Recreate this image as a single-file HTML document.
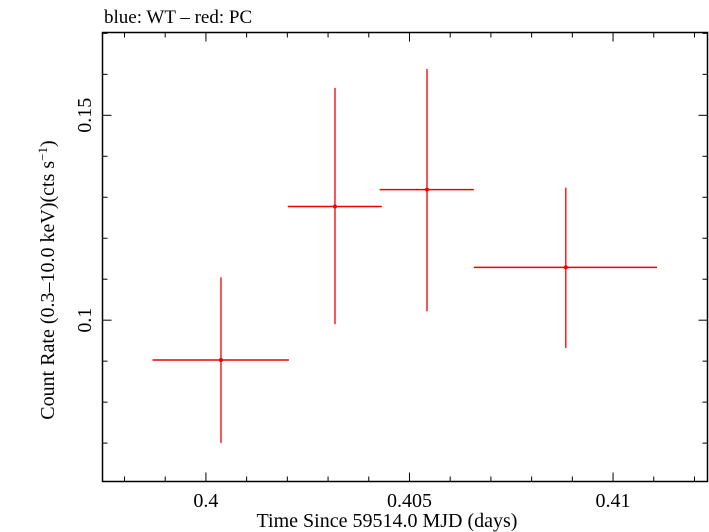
<!DOCTYPE html>
<html><head><meta charset="utf-8"><style>body{margin:0;background:#fff}svg{display:block}text{font-family:"Liberation Serif",serif;fill:#000}</style></head>
<body>
<svg width="709" height="532" viewBox="0 0 709 532" xmlns="http://www.w3.org/2000/svg">
<text x="104" y="23" font-size="19">blue: WT – red: PC</text>
<rect x="102.5" y="32.5" width="605" height="449" fill="none" stroke="#000" stroke-width="1.5"/>
<g id="axes"></g>
<g id="marks"></g>
<text x="387" y="527" font-size="20" text-anchor="middle">Time Since 59514.0 MJD (days)</text>
<text transform="translate(54,280) rotate(-90)" font-size="20" text-anchor="middle">Count Rate (0.3–10.0 keV)(cts s<tspan font-size="13" dy="-7">−1</tspan><tspan dy="7">)</tspan></text>
</svg>
<script>
const xCenters=[0.40037,0.40317,0.40543,0.40884];
const xLow=[0.39869,0.40201,0.40427,0.40658];
const xHigh=[0.40204,0.40432,0.40658,0.41108];
const yValues=[0.09027,0.12774,0.13187,0.11290];
const yLow=[0.07007,0.09903,0.10219,0.09319];
const yHigh=[0.11046,0.15669,0.16131,0.13236];
const xTickLabels=["0.4","0.405","0.41"];
const xTickValues=[0.4,0.405,0.41];
const yTickLabels=["0.1","0.15"];
const yTickValues=[0.1,0.15];
const L=102.5,R=707.5,T=32.5,B=481.5;
const X0=0.39746,X1=0.41232,Y0=0.06063,Y1=0.17021;
const sx=v=>L+(v-X0)/(X1-X0)*(R-L);
const sy=v=>B-(v-Y0)/(Y1-Y0)*(B-T);
const NS="http://www.w3.org/2000/svg";
function mk(tag,attrs,parent){const e=document.createElementNS(NS,tag);for(const k in attrs)e.setAttribute(k,attrs[k]);parent.appendChild(e);return e;}
const ax=document.getElementById('axes');
for(let i=0;i<=15;i++){const v=0.397+i*0.001;if(v<X0||v>X1)continue;const x=sx(v);const maj=Math.abs(Math.round(v*1000)%5)===0;const len=maj?9:5;
const t1=mk('line',{x1:x,x2:x,y1:B,y2:B-len,stroke:'#000','stroke-width':1},ax);


const t2=mk('line',{x1:x,x2:x,y1:T,y2:T+len,stroke:'#000','stroke-width':1},ax);

}
xTickValues.forEach((v,i)=>{const t=mk('text',{x:sx(v),y:507,'font-size':20,'text-anchor':'middle'},ax);t.textContent=xTickLabels[i];

});
for(let i=0;i<=12;i++){const v=0.06+i*0.01;if(v<Y0||v>Y1)continue;const y=sy(v);const maj=Math.abs(Math.round(v*100)%5)===0;const len=maj?9:5;
const t1=mk('line',{x1:L,x2:L+len,y1:y,y2:y,stroke:'#000','stroke-width':1},ax);


const t2=mk('line',{x1:R,x2:R-len,y1:y,y2:y,stroke:'#000','stroke-width':1},ax);

}
yTickValues.forEach((v,i)=>{const y=sy(v);const t=mk('text',{transform:`translate(91,${y}) rotate(-90)`,'font-size':20,'text-anchor':'middle'},ax);t.textContent=yTickLabels[i];

});
const mg=document.getElementById('marks');
xCenters.forEach((xc,i)=>{const g=mk('g',{},mg);


mk('line',{x1:sx(xLow[i]),x2:sx(xHigh[i]),y1:sy(yValues[i]),y2:sy(yValues[i]),stroke:'#e00','stroke-width':1.5},g);
mk('line',{x1:sx(xc),x2:sx(xc),y1:sy(yLow[i]),y2:sy(yHigh[i]),stroke:'#e00','stroke-width':1.3},g);
mk('circle',{cx:sx(xc),cy:sy(yValues[i]),r:2,fill:'#e00'},g);});
</script>
</body></html>
